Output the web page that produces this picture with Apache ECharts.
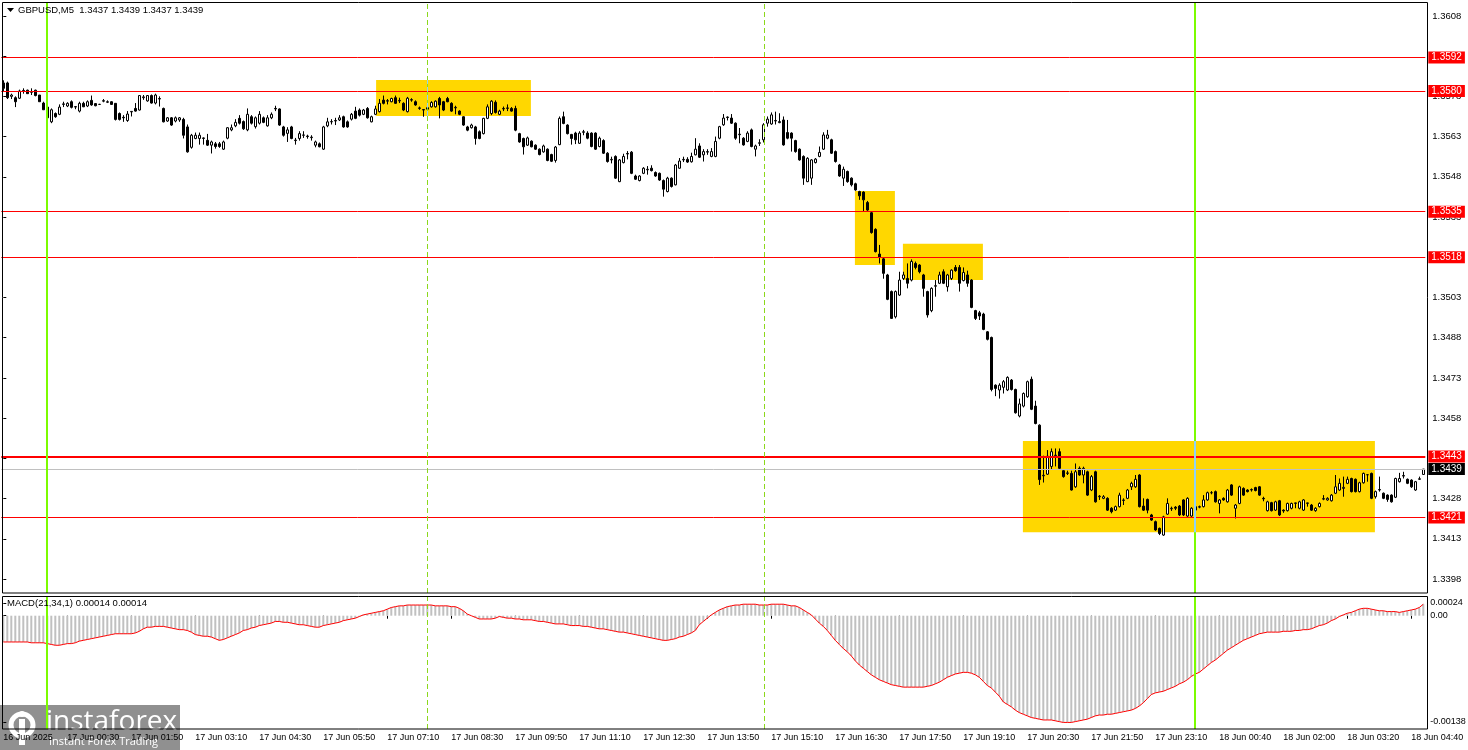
<!DOCTYPE html>
<html><head><meta charset="utf-8">
<script src="https://cdn.jsdelivr.net/npm/echarts@6/dist/echarts.min.js"></script>
<style>html,body{margin:0;padding:0;background:#fff}#c{width:1468px;height:750px}</style>
</head><body><div id="c"></div>
<script>
// prices stored as pips above BASE
const BASE = 1.34;
const tickLabels = ['16 Jun 2025','17 Jun 00:30','17 Jun 01:50','17 Jun 03:10','17 Jun 04:30','17 Jun 05:50','17 Jun 07:10','17 Jun 08:30','17 Jun 09:50','17 Jun 11:10','17 Jun 12:30','17 Jun 13:50','17 Jun 15:10','17 Jun 16:30','17 Jun 17:50','17 Jun 19:10','17 Jun 20:30','17 Jun 21:50','17 Jun 23:10','18 Jun 00:40','18 Jun 02:00','18 Jun 03:20','18 Jun 04:40'];
const priceTicks = [1.3398,1.3413,1.3428,1.3443,1.3458,1.3473,1.3488,1.3503,1.3518,1.3533,1.3548,1.3563,1.3578,1.3593,1.3608];
// [open, close, low, high] in pips above 1.3400
const candles = [
[183,181,180,184],[183,177.5,177,183.5],[178,178.5,177,179],[177.5,176,174,178],[177.3,180,177,180.5],
[180,180.2,179,181],[180.3,179,179,180.5],[179.5,179.8,178.5,181],[180.3,178.3,178,180.5],[178.5,176,176,178.5],
[175.5,173,173,176],[174,170,170,178.5],[168.5,173,168,173.5],[171.6,170.4,170,172],[171.3,174,171,175],
[175,175.2,174,176],[174.4,175.4,174,175.8],[176,173.9,173.5,176.5],[174,174.2,173.2,174.3],[172.5,175.4,172,176],
[175.4,174.1,174,176],[174.4,176,174,176.5],[176.5,174.8,174.5,178.3],[175.3,174.5,174.3,175.5],[175,175,174.8,175.2],
[176.2,176.4,175.8,177],[175.8,176,175.5,176.5],[176,175,174.8,176.2],[175.4,169.4,169,175.5],[171.6,169.4,169,172],
[170.2,170,168.5,171],[169,171.4,168.5,172.5],[172.2,172.4,170.5,172.4],[173.5,172.5,172.3,175.5],[172.9,178.3,172.7,178.5],
[177.5,177.8,176.7,178.5],[176.3,178.3,176,178.5],[178.3,175.5,175.3,178.7],[175.5,178.5,175,179],[177,177.2,174.2,178],
[173.5,168.5,168.3,173.8],[168.8,170,168.5,170.3],[170,167.3,167,170.3],[168.8,170,168.3,170.5],[169.2,170,168.5,170.3],
[169.4,163.5,162.3,170],[166.6,157.3,157,167.5],[159,163.5,158.5,164],[162.3,163.5,162,164.5],[162.3,163.5,160,164.5],
[162.3,162.5,160,162.7],[161.6,159.8,159.5,164],[159.8,161,156.7,161.5],[160.3,159.3,158.5,161],[160.3,159.3,158.8,161],
[158.3,161,158,161.5],[162.4,166.3,162,166.5],[165.5,166.3,165,167.5],[167,168.3,166.5,169.5],[169.8,168,167.5,171],
[168.6,165.9,165.5,169],[165.5,171.3,165,173.5],[170.4,168,167.5,171],[166.7,170,166,170.5],[168,171.3,167.5,172.5],
[170,168.3,168,170.5],[167,170,166.7,171],[170,171.3,169.5,172],[173.5,173.3,172.5,174.5],[173.3,167.3,167,173.5],
[166.6,163.5,163,167],[164.2,165.5,161,166.5],[166.6,162.3,162,167],[161.5,161.7,160,162.5],[162.3,164.1,161.5,165],
[163.5,163.6,162.5,165],[163,163.2,162.2,163.7],[162.6,162.8,161.5,163.5],[159.8,161,159,161.5],[160.3,159.2,159,160.8],
[158.3,166.6,158,167],[167,168.5,166.5,170],[168.5,168.6,167.5,169.5],[168.8,169,167.3,170],[169.2,170,168.8,171],
[170.4,166.6,166.3,170.8],[168.5,166.6,166.3,169],[169.5,171.3,169,171.8],[172.5,169.8,169.5,174.1],[172.9,171,170.5,173.5],
[171.3,172.9,171,173.3],[173.5,170,169.7,174],[168.5,170.4,168.3,170.8],[171.3,173.3,171,174.5],[172.3,175.4,172,177],
[176.6,175.4,175,178.3],[176.2,176.4,175,177],[176,177.2,175.8,177.5],[177.5,175.4,175.2,178.3],[176.3,176.5,175.5,177.5],
[175.4,172.9,172.5,175.8],[172.3,177.3,172,177.8],[176.6,176.8,176,177.3],[176,174.8,174.5,176.5],[173.5,173.7,173,174.2],
[172.9,173.1,170.4,173.2],[173.2,173.8,172,176],[174.1,175.7,173.8,176.2],[174.1,176.2,173.8,176.5],[177.2,174.8,169.8,177.8],
[176,172.9,172.5,176.3],[177.2,176,175.8,177.8],[175.4,172.5,172.2,175.8],[173.7,173.9,171.3,174.5],[172.5,171.3,171,172.8],
[170.4,167.3,167,170.6],[166.6,165.4,165,167],[166.3,167.3,166,167.8],[166.6,162.3,160,167],[164.8,162.3,162,165.3],
[164.1,169.8,163.8,170],[169.8,174.1,169.5,175],[171.6,176.2,171,176.6],[175.8,172,171.6,176.5],[171.3,172.5,171,173],
[173.3,173.5,172.5,174.2],[173.5,173.7,172.5,175],[173.5,172.5,172.3,174],[173.5,165.4,165,174.5],[164.1,161,160.7,164.4],
[162.3,159.2,156.3,162.6],[159.8,162.5,159.5,163],[161.3,159.2,159,161.6],[159.8,158.3,158,160.1],[158.3,156.3,156,158.6],
[157.3,159.5,157,160],[158.3,154.1,153.8,158.6],[156.3,153.8,153.5,156.6],[154.1,159.1,153.3,159.5],[160,169.8,159.8,170.5],
[170.4,167.9,167.6,172.3],[167.3,164.1,163.8,167.6],[163.8,162.3,160,164],[164.3,161.8,160.2,164.8],[160.5,164.3,160.3,165],
[164.6,164.8,163.5,165.5],[164.3,162.4,162,165],[164.3,159.3,159,164.6],[164.3,158.3,158,164.6],[159.3,162.4,159,163],
[161.5,156.8,156.5,162],[156.8,153.7,153.3,157.2],[154.3,154.5,153,155.5],[155.6,147.5,147.2,156],[146.2,154.3,146,154.6],
[153.3,155.6,153,156.6],[156.5,156.7,154.5,157.6],[157.2,149.3,149,157.6],[148.3,147.1,146.8,148.8],[146.6,148.3,146.3,148.6],
[149.3,151.2,149,151.6],[150.6,150.8,148.8,152],[151.2,150.3,150,152.3],[149.6,148.3,148,150],[149.3,146.8,146.5,149.6],
[146.6,143.4,140.6,147],[142.5,147.5,142.2,148],[147.5,144.4,144,147.8],[145,152.4,144.8,152.8],[151.2,153.9,151,155],
[154.3,154.5,153.5,155.5],[154.5,153.5,153.2,155.3],[153.6,155.6,153.3,157],[156.2,158.3,156,162.4],[159.5,155.3,155,160.5],
[156.2,157.4,153.7,158.3],[157.2,157.4,156.2,158.3],[155.6,157.4,155.3,158.7],[155.6,161.2,155.3,163],[162.4,166.7,162,167],
[167.4,169.9,167,171.4],[170.1,170.3,169,170.5],[169.9,168,167.7,171.4],[168,162.4,161.8,168.3],[163.7,163.9,160.5,166.2],
[162.4,159.9,159.6,162.8],[161.2,164.3,160.9,165],[165.5,159.3,159,166],[158.3,159.5,155.6,160],[160.5,160.7,159.5,162],
[161.8,167.4,160.8,168],[168,169.5,166.7,170.5],[167.7,171.1,167.4,172],[168.8,169,167.5,172.3],[168.2,168.6,168,171.7],
[169.2,159.9,159.6,170.5],[164.5,162.4,162,169.2],[164.3,162.4,157.4,164.6],[161.5,157.4,157,161.8],[158.3,154.3,154,158.6],
[155.6,147.5,145,156],[146.2,154.9,146,155.3],[147.5,154.3,145,154.6],[153.3,154.6,153,155],[155.6,157.1,155.3,159.3],
[158.3,163.6,158,164.6],[162.4,163.6,162,165.5],[161.8,156.8,156.5,162.2],[157.4,153.7,153.3,157.8],[152.4,148.3,148,152.8],
[147.5,150.8,144.6,151.8],[150,146.2,145.8,150.3],[147.5,145,144.4,147.8],[145.4,143.1,142.8,145.8],[142.5,140.9,139.4,142.8],
[142.3,139.4,135,142.6],[138.4,135.6,135.3,139],[134.6,127.2,126.8,135],[128.4,120.1,119.8,128.8],[119.2,118,115.7,122.6],
[117.4,112,110,117.8],[111.4,102.3,102,111.8],[105.2,95.2,95,105.6],[95.8,105.2,95.2,105.6],[103.9,109.5,103.6,112.6],
[110.1,111.4,109.5,112.6],[110.1,108.3,106.4,115.7],[109.5,116.4,109,117.2],[115.7,114.2,113.5,116.4],[115.1,112.6,112,115.4],
[111.4,106.4,103.3,111.8],[105.2,96.5,95.5,105.5],[98.1,106.4,97.5,106.8],[107.2,107.4,103.3,109.5],[108.3,111.4,108,112.6],
[112.6,108.3,108,113.5],[107,111.4,105.2,111.8],[110.1,113.2,109.5,113.5],[114.2,113,112.6,115.1],[114.2,108.3,105.2,115.1],
[109.3,112.3,109,114.2],[111.4,108.3,107,113],[109.5,99.3,99,109.8],[98.1,95.2,94.6,98.4],[97.3,96.1,94.6,98],
[96.8,91.1,90.8,97.3],[90.2,87.4,87,90.5],[88.1,68.7,68,88.4],[70.3,69.1,66.2,70.6],[68.5,70.3,65.3,71],
[69.5,71.6,67.2,72.2],[68.5,73.2,68.1,73.6],[72.2,68.7,68.3,72.6],[68.7,60,59.7,69],[58.8,63.3,58.3,65.3],
[62.5,67.2,62,67.6],[66,71.6,65.6,72],[72.5,61.3,61,73.5],[62.5,56,55.7,64.5],[55.4,35.1,33.1,55.7],
[36.5,36.7,34,44],[37.1,43.8,36.8,46.1],[40,45.5,39,46.7],[44,44.2,40,46.7],[45.5,39.3,39,46.7],
[38.4,36.2,35.8,39],[37.4,37.6,36.8,38.4],[37.4,31.2,31,38.4],[32.4,38,32,41.1],[39.3,36.8,36.5,40],
[36.8,39.3,33.7,39.9],[38,29.3,29,38.4],[31.2,36.2,30.8,36.8],[38,26.8,26.5,38.4],[28.7,28.9,27.5,29.3],
[28.1,28.7,27.8,29.3],[28.1,23.7,23.4,28.5],[24.4,23.1,22.5,24.8],[23.7,25,23.4,25.4],[25,29.3,24.7,30.2],
[27.3,27.5,25.6,28.1],[28.1,31.2,27.8,31.6],[32.4,33.7,31.2,34.3],[32.4,35.2,32,36.8],[36.8,25,24.7,37.1],
[25.2,23.7,23.4,28.1],[27.7,23.7,22.5,28],[21.9,20,19.7,22.3],[19.4,16.3,16,19.8],[16.9,15,14.4,17.2],
[14.4,21.2,14.1,21.6],[22.2,26.2,21.9,28.1],[24.2,24.4,23.4,25],[24.8,24.4,23.7,25.2],[25.2,21.9,21.5,25.6],
[27.5,21.9,21.5,27.8],[21.5,28.1,21.2,28.5],[21.5,24.4,21.2,24.8],[23.7,25,23.4,25.6],[24.8,25,24.4,25.4],
[25,27.5,24.7,29.3],[27.5,30.2,27.2,30.6],[30.2,30.2,29.6,30.8],[30.6,26.8,26.5,31],[26.2,27.5,22.5,27.8],
[28.1,27.5,27.2,28.5],[26.8,31.2,26.5,31.6],[33.1,29.3,29,33.4],[24.4,25.6,20.6,26],[26.2,32.4,25.9,32.8],
[31.8,29.3,29,32.2],[31.2,30.6,30.3,31.5],[31.2,31.4,30.6,31.8],[32.1,31,30.7,32.4],[32.4,29.3,29,32.7],
[28.1,27.9,27,28.7],[23.5,26.8,23.2,27.2],[26.5,23.5,23.2,26.8],[23.7,26.8,23.4,27.2],[27.2,21.9,21.5,27.5],
[23.7,23.4,22.7,24],[23.5,26.2,23.2,26.5],[24.4,26.2,24,26.5],[26.2,26.4,24.4,26.5],[24.4,26.8,24,27.2],
[23.7,27.5,23.4,27.8],[26.2,26.4,25,26.5],[25.6,23.7,23.4,26],[23.5,24.4,23.1,24.8],[25,26.2,24.7,26.6],
[27.8,28,27.4,29.3],[27.5,28.1,27.2,28.5],[27.2,29.3,26.9,29.7],[30,32.4,29.7,36.8],[31.2,33.7,30.9,35.5],
[31.8,32.2,28.7,36.2],[33.7,35.2,33.4,36.2],[35.5,30.6,30.3,35.8],[35.2,30.6,30.3,35.5],[30.6,33.9,30.3,34.3],
[33.9,37.4,33.6,37.7],[36.9,36.9,34.3,37.1],[37.4,28.1,27.8,37.7],[28.7,30.6,28,31],[31.2,31.4,30.6,36.2],
[30,28.1,27.8,30.3],[29.3,27.7,26.8,29.6],[29.3,26.8,26.5,29.6],[28.5,35.5,28.2,35.8],[34.3,35.5,34,37.6],
[36.4,36.6,35.5,38],[35.2,33.7,33.4,35.5],[34.9,32.4,32,35.2],[31.2,34.3,30.9,34.6],[35.2,35.4,35,36.2],
[37,39,37,39]
];
// MACD(21,34,1) values in units of 0.00001
const macd = [
-32,-32,-32,-32,-32,-32,-32,-33,-33,-33,-33,-34,-35,-36,-36,-35,-34,-34,-33,-31,
-30,-29,-28,-27,-26,-25,-24,-23,-22,-22,-22,-22,-22,-21,-19,-16,-14,-14,-13,-13,
-13,-14,-15,-16,-17,-17,-18,-20,-23,-24,-25,-25,-26,-28,-30,-29,-27,-25,-23,-21,
-18,-17,-15,-14,-12,-11,-10,-9,-7,-7,-8,-8,-9,-10,-11,-11,-12,-13,-14,-14,
-12,-11,-10,-9,-8,-6,-5,-4,-3,-1,1,2,3,4,5,6,8,10,11,12,
12,13,13,13,13,13,13,13,12,12,12,12,11,11,9,6,2,0,-2,-4,
-4,-4,-4,-3,-1,-2,-3,-3,-4,-4,-5,-5,-5,-6,-7,-7,-8,-9,-10,-10,
-10,-11,-12,-12,-12,-13,-13,-14,-15,-16,-16,-17,-18,-19,-20,-20,-21,-22,-23,-24,
-25,-26,-27,-28,-29,-30,-30,-29,-28,-26,-25,-23,-21,-18,-11,-7,-3,1,4,7,
9,11,12,13,13,14,14,14,14,13,13,13,14,14,14,14,13,12,12,10,
7,4,1,-4,-9,-13,-18,-24,-30,-35,-40,-44,-49,-55,-60,-64,-68,-72,-75,-78,
-80,-82,-84,-85,-86,-87,-87,-87,-87,-87,-87,-86,-85,-83,-81,-78,-75,-73,-71,-70,
-69,-69,-70,-72,-75,-80,-85,-88,-93,-98,-105,-108,-111,-115,-118,-120,-122,-124,-125,-126,
-127,-127,-127,-128,-129,-130,-130,-130,-129,-128,-127,-126,-124,-122,-121,-121,-120,-120,-119,-118,
-117,-116,-115,-113,-110,-106,-101,-96,-94,-93,-92,-90,-88,-86,-83,-81,-78,-74,-71,-69,
-65,-61,-57,-54,-50,-46,-42,-39,-36,-33,-30,-28,-26,-24,-22,-21,-20,-20,-20,-20,
-19,-19,-19,-18,-18,-17,-17,-16,-14,-12,-11,-9,-6,-4,-1,1,3,4,6,8,
9,9,8,7,6,6,5,5,5,4,5,6,7,8,10,14
];
// horizontal levels [price, label, width]
const levels = [[1.35925,'1.3592',1],[1.3580,'1.3580',1],[1.3535,'1.3535',1],[1.3518,'1.3518',1],[1.34437,'1.3443',2],[1.3421,'1.3421',1]];
const bid = [1.3439,'1.3439'];
// zones: [fromBar, toBar, topPips, bottomPips]
const zones = [[93.2,131.9,184.1,170.7],[212.9,222.9,142.7,115.1],[224.9,244.9,123.0,109.5],[254.9,342.9,49.5,15.5]];
// vertical lines: [bar, dashed]
const vlines = [[10.85,false],[106.05,true],[190.3,true],[297.9,false]];

const N = candles.length;
const FONT = 'Liberation Sans';
const PMIN = 1.33928, PMAX = 1.36130, MMIN = -0.00138, MMAX = 0.00024;
const toP = p => +(BASE + p / 10000).toFixed(6);
const cats = candles.map((_, i) => String(i));
const kdata = candles.map(c => c.map(toP));
const macdVals = macd.map(v => v / 100000);

const GREEN = '#7CFC00', DGREEN = '#8CD81C', INBOX = '#8FD3F5';
const boxLabel = (txt, bg) => ({show: true, position: 'end', formatter: txt, color: '#fff', backgroundColor: bg,
  padding: [1, 3, 1, 3], fontSize: 10, fontFamily: FONT, distance: 3, lineHeight: 10});
const hPair = (price, color, width, label) => [
  {coord: [-0.5, price], lineStyle: {color: color, width: width, type: 'solid'}, label: label},
  {coord: [N - 0.5, price]}];
const hLines = [hPair(bid[0], '#C0C0C0', 1, boxLabel(bid[1], '#000'))]
  .concat(levels.map(l => hPair(l[0], '#FF0000', l[2], boxLabel(l[1], '#FF0000'))));
const vStyle = (v, color) => ({color: v[1] && color === GREEN ? DGREEN : color, width: v[1] ? 1 : 2, type: v[1] ? [5, 3] : 'solid'});
const vPair = (v, lo, hi, color) => [
  {coord: [v[0], lo], lineStyle: vStyle(v, color), label: {show: false}},
  {coord: [v[0], hi]}];
const vLinesTop = vlines.map(v => vPair(v, PMIN, PMAX, GREEN));
const vLinesBottom = vlines.map(v => vPair(v, MMIN, MMAX, GREEN));
// segments of vertical lines lying inside a zone are shown light blue
const inBox = [];
vlines.forEach(v => zones.forEach(z => {
  if (v[0] > z[0] && v[0] < z[1]) inBox.push(vPair(v, toP(z[3]), toP(z[2]), INBOX));
}));

const macdTickVals = [0.0001547, 0, -0.0012947];
const chart = echarts.init(document.getElementById('c'), null, {renderer: 'canvas'});
chart.setOption({
  animation: false,
  backgroundColor: '#fff',
  grid: [
    {left: 1.3, top: 2.5, width: N * 4, height: 590.5, outerBoundsMode: 'none', containLabel: false},
    {left: 1.3, top: 596, width: N * 4, height: 133, outerBoundsMode: 'none', containLabel: false}
  ],
  xAxis: [
    {type: 'category', gridIndex: 0, data: cats, axisLine: {show: false}, axisTick: {show: false}, axisLabel: {show: false}, splitLine: {show: false}},
    {type: 'category', gridIndex: 1, data: cats, axisLine: {show: false},
      axisTick: {show: true, interval: 15, alignWithLabel: true, length: 3, lineStyle: {color: '#000'}},
      axisLabel: {interval: 15, align: 'left', margin: 4, fontSize: 9, fontFamily: FONT, color: '#000',
        formatter: v => tickLabels[Number(v) / 16] || ''},
      splitLine: {show: false}},
    {type: 'value', gridIndex: 0, min: -0.5, max: N - 0.5, show: false},
    {type: 'value', gridIndex: 1, min: -0.5, max: N - 0.5, show: false}
  ],
  yAxis: [
    {type: 'value', gridIndex: 0, position: 'right', offset: 2, min: PMIN, max: PMAX,
      splitLine: {show: false}, axisLine: {show: false},
      axisTick: {show: true, length: 3, customValues: priceTicks, lineStyle: {color: '#000'}},
      axisLabel: {customValues: priceTicks, formatter: v => v.toFixed(4), fontSize: 9.5, fontFamily: FONT, color: '#000', margin: 5}},
    {type: 'value', gridIndex: 1, position: 'right', offset: 2, min: MMIN, max: MMAX,
      splitLine: {show: false}, axisLine: {show: false},
      axisTick: {show: true, length: 3, customValues: macdTickVals, lineStyle: {color: '#000'}},
      axisLabel: {customValues: macdTickVals, fontSize: 9, fontFamily: FONT, color: '#000', margin: 3,
        formatter: v => v > 0.0001 ? '0.00024' : (v < -0.001 ? '-0.00138' : '0.00')}}
  ],
  series: [
    {type: 'line', name: 'zones', xAxisIndex: 2, yAxisIndex: 0, data: [], z: 1, silent: true,
      markArea: {silent: true, itemStyle: {color: '#FFD700', opacity: 1},
        data: zones.map(z => [{coord: [z[0], toP(z[2])]}, {coord: [z[1], toP(z[3])]}])}},
    {type: 'candlestick', name: 'GBPUSD', xAxisIndex: 0, yAxisIndex: 0, data: kdata, z: 2, barWidth: 2,
      itemStyle: {color: '#fff', color0: '#000', borderColor: '#000', borderColor0: '#000', borderWidth: 1}},
    {type: 'line', name: 'lines', xAxisIndex: 2, yAxisIndex: 0, data: [], z: 3, silent: true,
      markLine: {silent: true, precision: 6, symbol: ['none', 'none'], animation: false, data: hLines.concat(vLinesTop, inBox)}},
    {type: 'bar', name: 'MACD', xAxisIndex: 1, yAxisIndex: 1, data: macdVals, barWidth: 2,
      itemStyle: {color: '#C0C0C0'}, z: 2},
    {type: 'line', name: 'Signal', xAxisIndex: 1, yAxisIndex: 1, data: macdVals, symbol: 'none',
      lineStyle: {color: '#FF0000', width: 1}, z: 3},
    {type: 'line', name: 'vl2', xAxisIndex: 3, yAxisIndex: 1, data: [], z: 4, silent: true,
      markLine: {silent: true, precision: 6, symbol: ['none', 'none'], animation: false, data: vLinesBottom}}
  ],
  graphic: [
    {type: 'rect', shape: {x: 2.5, y: 2.5, width: 1425, height: 590.5}, style: {fill: 'none', stroke: '#000', lineWidth: 1}, z: 10, silent: true},
    {type: 'rect', shape: {x: 2.5, y: 596.5, width: 1425, height: 132.5}, style: {fill: 'none', stroke: '#000', lineWidth: 1}, z: 10, silent: true},
    {type: 'polygon', shape: {points: [[7, 8], [14, 8], [10.5, 12]]}, style: {fill: '#000'}, z: 10},
    {type: 'text', left: 18, top: 5, style: {text: 'GBPUSD,M5  1.3437 1.3439 1.3437 1.3439', font: '9.5px "Liberation Sans"', fill: '#000'}, z: 10},
    {type: 'text', left: 7, top: 598, style: {text: 'MACD(21,34,1) 0.00014 0.00014', font: '9.5px "Liberation Sans"', fill: '#000'}, z: 10},
    {type: 'group', left: 0, top: 705, z: 20, children: [
      {type: 'rect', shape: {x: 0, y: 0, width: 180, height: 45}, style: {fill: 'rgba(120,120,120,0.82)'}},
      {type: 'circle', shape: {cx: 22, cy: 20, r: 11}, style: {fill: 'none', stroke: '#fff', lineWidth: 5}},
      {type: 'rect', shape: {x: 19, y: 14, width: 6, height: 26}, style: {fill: '#fff'}},
      {type: 'circle', shape: {cx: 22, cy: 9, r: 3}, style: {fill: '#fff'}},
      {type: 'text', x: 46, y: 3, style: {text: 'instaforex', font: '28px "Open Sans"', fill: '#fff'}},
      {type: 'text', x: 49, y: 31, style: {text: 'Instant Forex Trading', font: '11px "Open Sans"', fill: '#fff'}}
    ]}
  ]
});
</script></body></html>
